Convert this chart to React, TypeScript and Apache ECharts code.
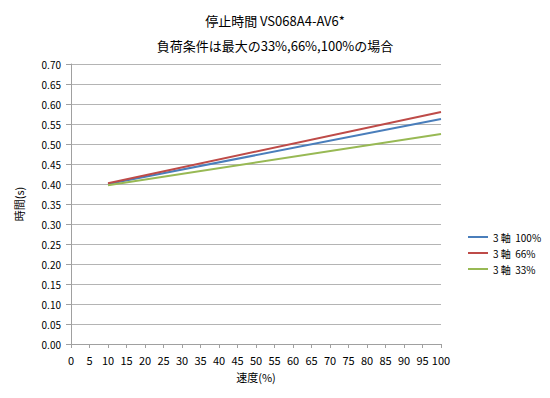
import React, { useEffect, useRef } from "react";
import * as echarts from "echarts";

const speeds = [10, 100];
const series100 = [0.4, 0.5625];
const series66 = [0.402, 0.58];
const series33 = [0.397, 0.525];
const seriesNames = ["3 軸  100%", "3 軸  66%", "3 軸  33%"];
const colors = ["#4A7EBB", "#BE4B48", "#98B954"];
const titleLines = ["停止時間 VS068A4-AV6*", "負荷条件は最大の33%,66%,100%の場合"];

const FONT = "'Noto Sans CJK JP', 'Noto Sans', sans-serif";

export default function App() {
  const ref = useRef<HTMLDivElement>(null);
  useEffect(() => {
    if (!ref.current) return;
    const chart = echarts.init(ref.current, undefined, { renderer: "svg" });
    const mk = (vals: number[]) => speeds.map((s, i) => [s, vals[i]]);
    const data = [series100, series66, series33];
    chart.setOption({
      animation: false,
      backgroundColor: "#ffffff",
      textStyle: { fontFamily: FONT },
      title: {
        text: titleLines.join("\n"),
        left: 275,
        textAlign: "center",
        top: 8,
        padding: 0,
        textStyle: { fontSize: 13, fontWeight: "normal", color: "#000", lineHeight: 25, fontFamily: FONT },
      },
      grid: { left: 71, right: 109, top: 64, bottom: 54 },
      legend: {
        orient: "vertical",
        left: 463,
        top: 227,
        itemWidth: 20,
        itemHeight: 2,
        itemGap: 6,
        icon: "rect",
        textStyle: { fontSize: 10, color: "#000", fontFamily: FONT },
        data: seriesNames,
      },
      xAxis: {
        type: "value",
        min: 0,
        max: 100,
        interval: 5,
        name: "速度(%)",
        nameLocation: "middle",
        nameGap: 27,
        nameTextStyle: { fontSize: 11, color: "#000", fontFamily: FONT },
        axisLine: { lineStyle: { color: "#a0a0a0" } },
        axisTick: { lineStyle: { color: "#a0a0a0" }, length: 4 },
        axisLabel: { fontSize: 11, color: "#000", margin: 10 },
        splitLine: { show: false },
      },
      yAxis: {
        type: "value",
        min: 0,
        max: 0.7,
        interval: 0.05,
        name: "時間(s)",
        nameLocation: "middle",
        nameGap: 47,
        nameRotate: 90,
        nameTextStyle: { fontSize: 11, color: "#000", fontFamily: FONT },
        axisLine: { show: true, lineStyle: { color: "#a0a0a0" } },
        axisTick: { show: true, lineStyle: { color: "#a0a0a0" }, length: 5 },
        axisLabel: { fontSize: 10, color: "#000", formatter: (v: number) => v.toFixed(2), margin: 10 },
        splitLine: { lineStyle: { color: "#b4b4b4" } },
      },
      series: seriesNames.map((n, i) => ({
        name: n,
        type: "line",
        data: mk(data[i]),
        showSymbol: false,
        symbol: "none",
        lineStyle: { color: colors[i], width: 2 },
        itemStyle: { color: colors[i] },
      })),
    });
    return () => chart.dispose();
  }, []);
  return <div ref={ref} style={{ width: 550, height: 398, margin: -8 }} />;
}
